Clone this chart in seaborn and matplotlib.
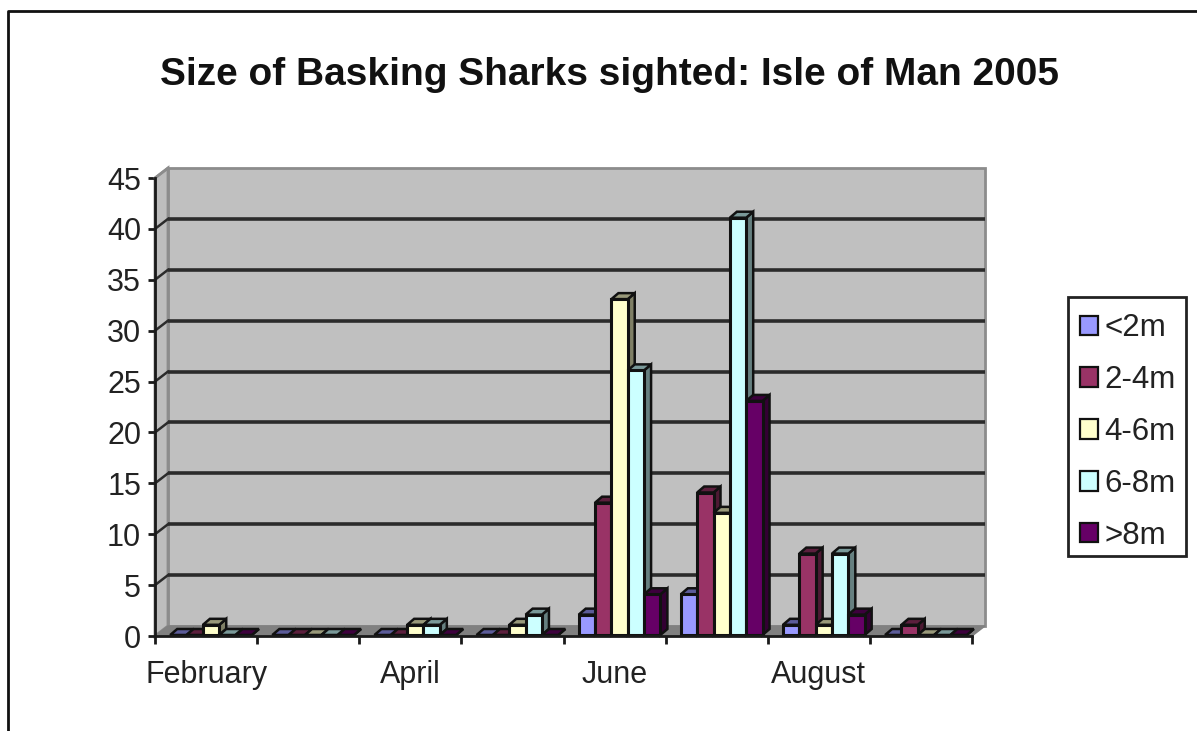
import matplotlib
matplotlib.use("Agg")
import matplotlib.pyplot as plt
import numpy as np
import pandas as pd
import seaborn as sns
from matplotlib.lines import Line2D
from matplotlib.patches import Polygon, Rectangle
from matplotlib.transforms import Affine2D

months = ["February", "March", "April", "May", "June", "July", "August", "September"]
tick_labels = ["February", "", "April", "", "June", "", "August", ""]
under_2m = [0, 0, 0, 0, 2, 4, 1, 0]
from_2_to_4m = [0, 0, 0, 0, 13, 14, 8, 1]
from_4_to_6m = [1, 0, 1, 1, 33, 12, 1, 0]
from_6_to_8m = [0, 0, 1, 2, 26, 41, 8, 0]
over_8m = [0, 0, 0, 0, 4, 23, 2, 0]
size_classes = ["<2m", "2-4m", "4-6m", "6-8m", ">8m"]
palette = ["#9999FF", "#993366", "#FFFFCC", "#CCFFFF", "#660066"]

W, H = 1197, 731
plt.rcParams["font.family"] = ["Liberation Sans", "DejaVu Sans"]

df = pd.DataFrame(
    {"<2m": under_2m, "2-4m": from_2_to_4m, "4-6m": from_4_to_6m,
     "6-8m": from_6_to_8m, ">8m": over_8m, "month": months}
).melt(id_vars="month", var_name="size", value_name="count")

fig = plt.figure(figsize=(W / 100, H / 100), dpi=100, facecolor="white")

# Front plane of the chart box, given in pixels from the top-left corner
left, right, base, top = 155, 972, 636, 178
ax = fig.add_axes([left / W, 1 - base / H, (right - left) / W, (base - top) / H])
ax.patch.set_visible(False)

sns.barplot(data=df, x="month", y="count", hue="size", order=months,
            hue_order=size_classes, palette=palette, saturation=1, width=0.8,
            gap=0, errorbar=None, edgecolor="#111111", linewidth=2.2, ax=ax, zorder=5)

ax.set_xlim(-0.5, len(months) - 0.5)
ax.set_ylim(0, 45)

# Depth of the box (pixels), and of the bars standing inside it
box_dx, box_dy = 13, 10
bar_dx, bar_dy = 7, 6
shift_x, shift_y = 5, 1

back = ax.transData + Affine2D().translate(box_dx, box_dy)

# Back wall, side wall and floor
x0, x1 = ax.get_xlim()
ax.add_patch(Rectangle((x0, 0), x1 - x0, 45, transform=back, facecolor="#C0C0C0",
                       edgecolor="#8C8C8C", linewidth=2, zorder=1, clip_on=False))
px = (x1 - x0) / (right - left)
py = 45 / (base - top)
ax.add_patch(Polygon([(x0, 0), (x0 + box_dx * px, box_dy * py),
                      (x0 + box_dx * px, 45 + box_dy * py), (x0, 45)],
                     facecolor="#BDBDBD", edgecolor="#8C8C8C", linewidth=2,
                     zorder=1, clip_on=False))
ax.add_patch(Polygon([(x0, 0), (x1, 0), (x1 + box_dx * px, box_dy * py),
                      (x0 + box_dx * px, box_dy * py)],
                     facecolor="#808080", edgecolor="#808080", linewidth=1,
                     zorder=2, clip_on=False))

# Gridlines run along the back wall and step diagonally down the side wall
for value in np.arange(5, 50, 5):
    if value < 45:
        ax.plot([x0 + box_dx * px, x1 + box_dx * px],
                [value + box_dy * py] * 2, color="#2B2B2B", lw=2.6,
                solid_capstyle="butt", zorder=3, clip_on=False)
    ax.plot([x0, x0 + box_dx * px], [value, value + box_dy * py],
            color="#2B2B2B" if value < 45 else "#8C8C8C", lw=1.8,
            zorder=3, clip_on=False)


def shade(color, factor):
    return tuple(c * factor for c in matplotlib.colors.to_rgb(color))


# Each bar gets a top and a side face; drawing left to right lets the next
# bar's front cover the previous bar's side
bars = sorted((b for c in ax.containers for b in c), key=lambda b: b.get_x())
front = Affine2D().translate(shift_x, shift_y)
for i, bar in enumerate(bars):
    color = bar.get_facecolor()
    xa, xb = bar.get_x(), bar.get_x() + bar.get_width()
    h = bar.get_height()
    ddx, ddy = bar_dx * px, bar_dy * py
    z = 5 + i * 0.01
    bar.set_transform(ax.transData + front)
    bar.set_zorder(z + 0.005)
    bar.set_clip_on(False)
    ax.add_patch(Polygon([(xb, 0), (xb + ddx, ddy), (xb + ddx, h + ddy), (xb, h)],
                         transform=ax.transData + front, facecolor=shade(color, 0.5),
                         edgecolor="#111111", linewidth=1.8, zorder=z, clip_on=False))
    ax.add_patch(Polygon([(xa, h), (xb, h), (xb + ddx, h + ddy), (xa + ddx, h + ddy)],
                         transform=ax.transData + front, facecolor=shade(color, 0.6),
                         edgecolor="#111111", linewidth=1.8, zorder=z, clip_on=False))

# Axes: value ticks at the front, month ticks between the groups
sns.despine(ax=ax, top=True, right=True)
for side in ("left", "bottom"):
    ax.spines[side].set_linewidth(2)
    ax.spines[side].set_color("#1A1A1A")
    ax.spines[side].set_zorder(8)
ax.set_yticks(np.arange(0, 50, 5))
ax.tick_params(axis="y", length=5, width=2, color="#1A1A1A", labelsize=22,
               labelcolor="#222222", pad=5)
ax.set_xticks(np.arange(len(months) + 1) - 0.5)
ax.set_xticklabels([])
ax.set_xticks(np.arange(len(months)), labels=tick_labels, minor=True)
ax.tick_params(axis="x", which="major", length=6, width=2, color="#1A1A1A")
ax.tick_params(axis="x", which="minor", length=0, labelsize=22,
               labelcolor="#222222", pad=17)
ax.set_xlabel("")
ax.set_ylabel("")

# Legend entries sit in their own frame so the box can have uneven padding
handles, labels = ax.get_legend_handles_labels()
ax.get_legend().remove()
fig.add_artist(Rectangle((1068 / W, 1 - 556 / H), 118 / W, 259 / H,
                         transform=fig.transFigure, facecolor="white",
                         edgecolor="#222222", linewidth=2))
leg = fig.legend(handles, labels, loc="upper left",
                 bbox_to_anchor=(1069 / W, 1 - 302 / H), fontsize=22.5,
                 frameon=False, handlelength=0.58, handleheight=0.58,
                 handletextpad=0.2, labelspacing=0.7, borderpad=0.36,
                 borderaxespad=0, labelcolor="#222222")
for h in leg.legend_handles:
    h.set_edgecolor("#111111")
    h.set_linewidth(1.6)

fig.text(609 / W, 1 - 75 / H, "Size of Basking Sharks sighted: Isle of Man 2005",
         ha="center", va="center", fontsize=28, fontweight="bold", color="#111111")

# Chart frame, running off the right and bottom of the canvas
fig.add_artist(Line2D([8 / W, 8 / W, 1], [0, 1 - 11 / H, 1 - 11 / H],
                      color="#111111", lw=2))

fig.savefig("out.png", dpi=100)
